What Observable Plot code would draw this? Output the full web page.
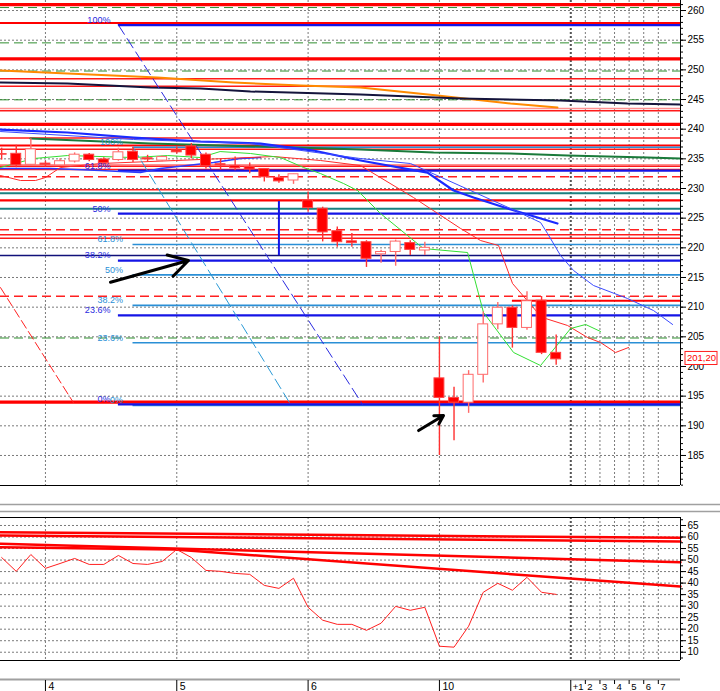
<!DOCTYPE html>
<html><head><meta charset="utf-8">
<script src="https://cdn.jsdelivr.net/npm/d3@7"></script>
<script src="https://cdn.jsdelivr.net/npm/@observablehq/plot@0.6"></script>
<style>
body{margin:0;background:#fff;width:720px;height:691px;overflow:hidden;position:relative;font-family:"Liberation Sans",Arial,sans-serif;color:#000}
#main{position:absolute;left:0;top:0}
#low{position:absolute;left:0;top:512px}
svg{overflow:visible}
</style></head><body>
<div id="main"></div><div id="low"></div>
<script>
// ---------- DATA ----------
const opens  = [235.8,235.85,234.0,234.2,233.9,234.55,235.7,234.9,234.8,236.2,235.1,234.7,236.4,237.1,235.7,234.1,233.8,233.6,233.3,231.8,231.35,228.0,226.6,222.8,221.1,220.95,218.9,219.3,220.8,219.55,198.0,194.7,193.9,198.6,207.1,209.9,206.5,211.1,202.3];
const highs  = [236.8,237.3,238.4,234.6,235.0,236.0,235.9,235.2,236.8,236.9,235.6,235.5,237.0,237.6,236.0,234.9,235.3,234.3,233.3,232.3,232.4,229.4,226.85,223.5,222.4,221.2,219.6,221.3,221.2,220.95,205.0,196.5,199.3,209.2,210.8,210.2,212.6,211.8,205.3];
const lows   = [234.8,233.5,233.8,233.6,233.7,234.3,234.5,234.0,234.6,234.4,234.4,234.5,235.8,235.0,233.3,233.1,233.0,232.5,231.1,230.9,230.7,226.0,221.0,220.1,220.1,216.7,217.4,216.9,218.7,218.7,185.0,187.5,192.1,197.2,206.2,203.1,206.1,202.0,200.2];
const closes = [235.7,233.9,236.6,234.0,234.6,235.7,234.8,234.3,236.1,234.8,234.9,235.3,236.1,235.55,233.75,233.9,233.4,233.2,231.9,231.2,232.4,226.7,222.6,220.95,220.8,218.15,219.3,221.05,219.65,220.0,194.7,193.9,198.6,207.1,209.9,206.5,211.0,202.3,201.2];

const dayBars = [3,12,21,30];
const dayLabels = ["4","5","6","10"];
const futureBars = [39,40,41,42,43,44,45];
const futureLabels = ["+1","2","3","4","5","6","7"];
const priceTicks = [185,190,195,200,205,210,215,220,225,230,235,240,245,250,255,260];
const oscTicks = [10,15,20,25,30,35,40,45,50,55,60,65];

// horizontal levels (price)
const redThick = [261.0,251.85,240.8,194.0];
const redMedium = [257.9,237.25,228.0];
const redThin = [248.5,247.25,243.1,238.5,236.6,233.75,233.2,229.8,222.2,221.6];
const pinkLevels = [243.5,234.0];
const redDashed = [232.0,223.05,211.85];
const greenDashed = [260.5,254.55,249.8,244.95,204.8];
const tealLevels = [229.2,226.6];
const navyLevels = [218.7];
const redShort = [211.1];           // from bar 35
const redShortStart = 35;

// Fibonacci sets
const fibLabels = ["100%","61.8%","50%","38.2%","23.6%","0%"];
const fibBlue = [257.55,233.0,225.75,217.85,208.6,193.6];      // from bar 8
const fibLight = [236.95,220.55,215.45,210.3,204.0,193.45];    // from bar 9
const fibBlueStart = 8, fibLightStart = 9;

// diagonal dashed lines [bar, price]
const diagBlue = [[8,257.55],[24.73,193.6]];
const diagLight = [[9,236.95],[19.8,193.6]];
const diagRed = [[-0.08,213.3],[4.92,193.9]];

// vertical marker
const vMarker = {bar:19, from:227.8, to:218.7};

// indicator lines [bar, price]
const orangeLine = [[-0.08,249.89],[4.51,249.38],[10.68,248.71],[15.89,247.87],[20.48,247.36],[24.59,247.02],[29.87,245.67],[34.87,244.33],[38.09,243.65]];
const darkLine = [[-0.08,247.87],[4.51,247.7],[10.2,247.02],[13.63,246.85],[17.05,246.35],[24.59,245.84],[31.44,245.17],[38.3,244.83],[42.89,244.33],[46.52,244.16]];
const darkGreenLine = [[1.97,238.43],[10.2,237.58],[17.74,237.08],[24.59,236.57],[29.6,236.07],[34.87,235.9],[38.78,235.56],[44.26,235.22],[46.52,235.05]];
const blueThick = [[-0.08,239.94],[4.51,239.44],[9.03,238.59],[13.63,237.92],[17.74,237.58],[21.37,236.4],[24.59,234.72],[29.18,232.69],[30.97,229.66],[32.34,228.48],[34.67,226.63],[38.09,224.1]];
const blueThin = [[-0.08,239.6],[9.03,238.26],[17.05,237.58],[24.59,235.05],[28.02,234.21],[32.13,229.66],[34.87,226.63],[36.93,224.27],[37.41,222.41],[38.3,218.7],[39.19,216.18],[40.56,213.65],[42.89,211.46],[44.67,209.43],[45.98,207.08]];
const blueLow = [[-0.08,233.37],[3.34,233.37],[6.77,233.03],[9.51,232.69],[10.88,233.37],[14.52,234.38],[16.37,235.05],[17.74,235.22]];
const greenThin = [[-0.08,233.54],[2.18,235.05],[4.51,235.56],[9.03,235.22],[11.36,235.56],[13.63,235.22],[14.97,236.23],[17.05,235.9],[19.11,235.22],[20.69,233.54],[21.85,232.52],[23.43,230.84],[24.39,229.66],[25.96,225.79],[27.81,222.08],[28.91,219.88],[31.93,219.21],[33.02,209.1],[35.08,202.36],[36.93,200.16],[38.99,206.4],[40.02,207.08],[41.04,205.9]];
const redMA = [[-0.08,232.19],[1.29,231.35],[2.32,231.35],[3.0,231.85],[4.03,233.54],[6.77,234.21],[11.91,234.72],[18.63,235.39],[21.85,234.72],[24.59,233.87],[28.22,228.48],[31.45,223.26],[32.82,221.23],[34.05,220.39],[35.01,213.99],[36.72,209.1],[37.27,208.09],[38.78,206.91],[40.15,204.88],[41.04,204.04],[42.07,202.36],[42.96,203.2]];

// arrows [bar1, price1, bar2, price2]
const arrowList = [[7.46,214.2,12.8,217.86],[28.57,189.2,30.28,191.74]];

// lower panel
const oscValues = [51.1,45.1,52.4,46.4,48.5,50.7,48.1,48.1,52.0,48.5,48.1,49.4,54.6,51.1,45.5,45.1,44.2,43.8,39.0,37.7,42.1,29.5,23.9,22.1,22.1,19.5,22.6,29.9,28.2,29.5,12.6,12.2,21.3,36.0,39.9,36.9,42.5,36.0,35.1];
const oscLineA = [[-0.08,62.09],[46.52,59.66]];
const oscLineB = [[-0.08,60.66],[46.52,58.06]];
const oscLineC = [[-0.08,57.06],[46.52,49.07]];
const oscLineD = [[-0.08,55.58],[11.8,54.58],[46.52,38.52]];

// ---------- LAYOUT ----------
const xDomain = [-0.08, 46.52];
const xPerBar = 14.59;
const mainY = [179.94, 261.69];
const pxPerPrice = 485 / (mainY[1] - mainY[0]);
const lowY = [6.41, 68.47];
const pxPerOsc = 143 / (lowY[1] - lowY[0]);
const xRightEdge = xDomain[1] + 40 / xPerBar;

const candles = opens.map((o, i) => ({bar: i, open: o, high: highs[i], low: lows[i], close: closes[i]}));
const pts = a => a.map(([b, p]) => ({bar: b, price: p}));
const fibBlueData = fibBlue.map((p, i) => ({price: p, label: fibLabels[i]}));
const fibLightData = fibLight.map((p, i) => ({price: p, label: fibLabels[i]}));
const lastClose = closes[closes.length - 1];
const grey = "#7a7a7a";
const font = "Liberation Sans, Arial, sans-serif";

const hl = (levels, opts) => Plot.ruleY(levels, {x1: () => xDomain[0], x2: () => xDomain[1], ...opts});
const ln = (arr, opts) => Plot.line(pts(arr), {x: "bar", y: "price", ...opts});

const main = Plot.plot({
  width: 720, height: 512,
  marginLeft: 0, marginRight: 40, marginTop: 0, marginBottom: 27,
  x: {domain: xDomain, axis: null},
  y: {domain: mainY, axis: null},
  style: {fontFamily: font, fontSize: "10px", background: "transparent", overflow: "visible"},
  marks: [
    Plot.ruleY(priceTicks, {stroke: grey, strokeDasharray: "2,2"}),
    Plot.ruleX(dayBars.concat(futureBars), {stroke: grey, strokeDasharray: "2,2"}),
    Plot.ruleX([futureBars[0]], {stroke: "#555", strokeWidth: 2, strokeDasharray: "2,2"}),
    hl(greenDashed, {stroke: "#2f8f2f", strokeDasharray: "9,5"}),
    hl(pinkLevels, {stroke: "#ff9090", strokeWidth: 1.5}),
    hl(redThin, {stroke: "#ff1a1a", strokeWidth: 1.5}),
    hl(redMedium, {stroke: "#ff0000", strokeWidth: 2.2}),
    hl(redThick, {stroke: "#ff0000", strokeWidth: 3.2}),
    hl(redDashed, {stroke: "#ff2020", strokeWidth: 1.5, strokeDasharray: "9,5"}),
    hl(tealLevels, {stroke: "#1a8080", strokeWidth: 2}),
    hl(navyLevels, {stroke: "#10107a", strokeWidth: 1.5}),
    Plot.ruleY(redShort, {x1: () => redShortStart, x2: () => xDomain[1], stroke: "#ff0000", strokeWidth: 2}),
    Plot.ruleY(fibLight, {x1: () => fibLightStart, x2: () => xDomain[1], stroke: "#2a8fd6", strokeWidth: 1.6}),
    Plot.ruleY(fibBlue, {x1: () => fibBlueStart, x2: () => xDomain[1], stroke: "#1414e6", strokeWidth: 2.2}),
    ln(orangeLine, {stroke: "#ff8a00", strokeWidth: 2}),
    ln(darkLine, {stroke: "#14143c", strokeWidth: 2}),
    ln(darkGreenLine, {stroke: "#1a7a3a", strokeWidth: 2}),
    ln(blueLow, {stroke: "#2a3aff", strokeWidth: 1.5}),
    ln(blueThick, {stroke: "#1a2aff", strokeWidth: 2.2}),
    ln(blueThin, {stroke: "#3a4aff", strokeWidth: 1}),
    ln(redMA, {stroke: "#ff2a2a", strokeWidth: 1}),
    ln(greenThin, {stroke: "#33e033", strokeWidth: 1}),
    ln(diagBlue, {stroke: "#2a2ae0", strokeWidth: 1, strokeDasharray: "11,5"}),
    ln(diagLight, {stroke: "#2a9ad6", strokeWidth: 1, strokeDasharray: "11,5"}),
    ln(diagRed, {stroke: "#ff2020", strokeWidth: 1, strokeDasharray: "9,4"}),
    Plot.ruleX([vMarker], {x: "bar", y1: "from", y2: "to", stroke: "#1414e6", strokeWidth: 2}),
    Plot.ruleX(candles, {x: "bar", y1: "low", y2: "high", stroke: d => d.close < d.open ? "#ff3030" : "#ff6a6a", strokeWidth: 1.4}),
    Plot.rect(candles, {x1: d => d.bar - 0.34, x2: d => d.bar + 0.34, y1: "open", y2: "close",
      fill: d => d.close < d.open ? "#ff0000" : "#ffffff", stroke: d => d.close < d.open ? "#ff4545" : "#ff6a6a", strokeWidth: 1}),
    Plot.arrow(arrowList, {x1: d => d[0], y1: d => d[1], x2: d => d[2], y2: d => d[3], stroke: "#000", strokeWidth: 3, headLength: 11}),
    Plot.text(fibBlueData, {x: () => fibBlueStart, y: "price", text: "label", textAnchor: "end", dx: -8, dy: -5, fill: "#2a2ae0", fontSize: 9}),
    Plot.text(fibLightData, {x: () => fibLightStart, y: "price", text: "label", textAnchor: "end", dx: -10, dy: -5, fill: "#2a8fd6", fontSize: 9}),
    Plot.ruleX([xDomain[1]], {stroke: "#000"}),
    Plot.ruleY([mainY[0]], {x1: () => xDomain[0], x2: () => xDomain[1], stroke: "#000"}),
    Plot.axisY({anchor: "right", label: null, ticks: d3.range(180, 262, 1), tickSize: 2, tickFormat: () => ""}),
    Plot.axisY({anchor: "right", label: null, ticks: priceTicks, tickSize: 5, tickPadding: 2, fontSize: 10}),
    Plot.ruleY([mainY[0] - 19 / pxPerPrice, mainY[0] - 26 / pxPerPrice], {x1: () => xDomain[0], x2: () => xRightEdge, stroke: "#a0a0a0", strokeWidth: 1.5}),
    Plot.rect([lastClose], {x1: () => xDomain[1] + 5 / xPerBar, x2: () => xDomain[1] + 37 / xPerBar, y1: d => d - 0.95, y2: d => d + 1.25, fill: "#fff", stroke: "#ff2020"}),
    Plot.text([lastClose], {x: () => xDomain[1] + 21 / xPerBar, y: d => d, dy: -1.5, text: d => d.toFixed(2).replace(".", ","), fill: "#ff0000", fontSize: 9.5})
  ]
});
document.getElementById("main").appendChild(main);

const lowBottom = lowY[0];
const low = Plot.plot({
  width: 720, height: 179,
  marginLeft: 0, marginRight: 40, marginTop: 5, marginBottom: 31,
  x: {domain: xDomain, axis: null},
  y: {domain: lowY, axis: null},
  style: {fontFamily: font, fontSize: "10px", background: "transparent", overflow: "visible"},
  marks: [
    Plot.ruleY(oscTicks, {stroke: grey, strokeDasharray: "2,2"}),
    Plot.ruleX(dayBars.concat(futureBars), {stroke: grey, strokeDasharray: "2,2"}),
    Plot.ruleX([futureBars[0]], {stroke: "#555", strokeWidth: 2, strokeDasharray: "2,2"}),
    ln(oscLineA, {stroke: "#ff0000", strokeWidth: 2.5}),
    ln(oscLineB, {stroke: "#ff0000", strokeWidth: 2.5}),
    ln(oscLineC, {stroke: "#ff0000", strokeWidth: 2.5}),
    ln(oscLineD, {stroke: "#ff0000", strokeWidth: 2.5}),
    Plot.line(oscValues, {x: (d, i) => i, y: d => d, stroke: "#ff2020", strokeWidth: 1}),
    Plot.ruleY([lowY[0], lowY[1]], {x1: () => xDomain[0], x2: () => xDomain[1], stroke: "#000"}),
    Plot.ruleX([xDomain[1]], {y1: () => lowY[0], y2: () => lowY[1], stroke: "#000"}),
    Plot.axisY({anchor: "right", label: null, ticks: d3.range(7.5, 68, 2.5), tickSize: 2, tickFormat: () => ""}),
    Plot.axisY({anchor: "right", label: null, ticks: oscTicks, tickSize: 5, tickPadding: 2, fontSize: 10}),
    // bottom time axis
    Plot.ruleY([lowBottom - 19 / pxPerOsc], {x1: () => xDomain[0], x2: () => xDomain[1], stroke: "#a0a0a0", strokeWidth: 2}),
    Plot.ruleX(dayBars.concat([futureBars[0]]), {y1: () => lowBottom - 20 / pxPerOsc, y2: () => lowBottom - 31 / pxPerOsc, stroke: "#000"}),
    Plot.ruleX(futureBars.slice(1), {y1: () => lowBottom - 20 / pxPerOsc, y2: () => lowBottom - 24 / pxPerOsc, stroke: "#000"}),
    Plot.text(dayLabels, {x: (d, i) => dayBars[i], y: () => lowBottom - 26 / pxPerOsc, text: d => d, textAnchor: "start", dx: 3, fontSize: 10.5}),
    Plot.text(futureLabels, {x: (d, i) => futureBars[i], y: () => lowBottom - 26 / pxPerOsc, text: d => d, textAnchor: "start", dx: 2, fontSize: 9.5})
  ]
});
document.getElementById("low").appendChild(low);
</script>
</body></html>
